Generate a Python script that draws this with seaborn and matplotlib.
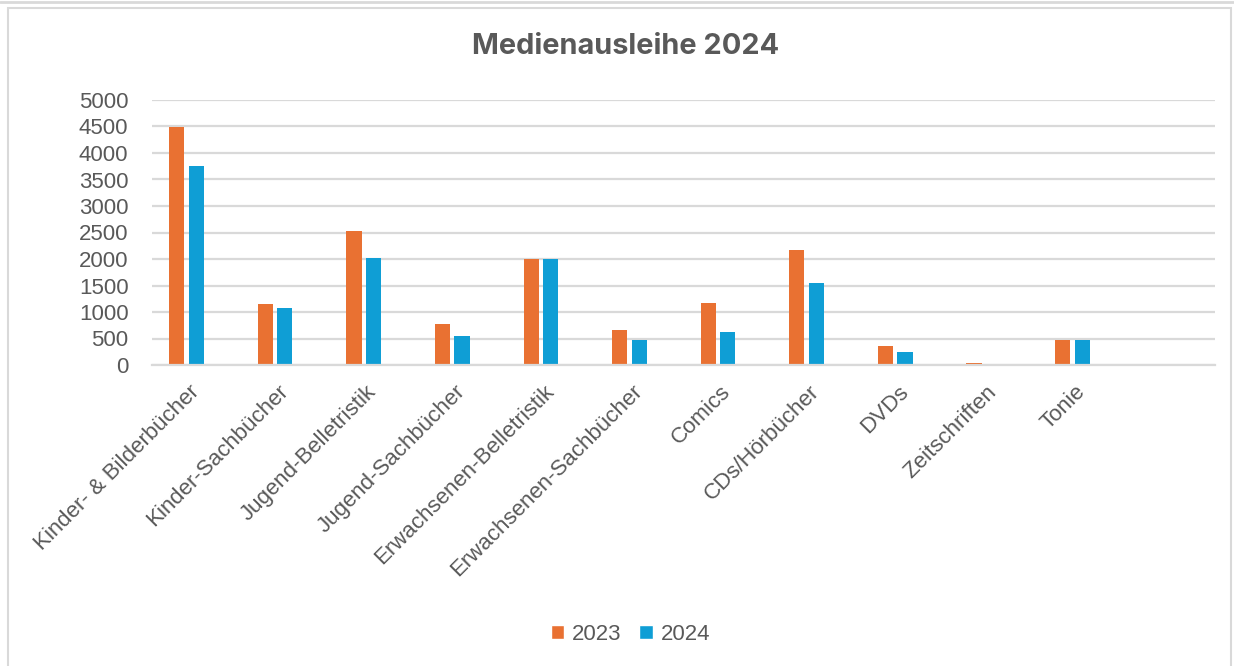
import matplotlib
matplotlib.use("Agg")
import matplotlib.pyplot as plt
from matplotlib.patches import Patch, Rectangle
from matplotlib.lines import Line2D
import seaborn as sns
import pandas as pd

# Ausleihzahlen je Medienart
kategorien = ["Kinder- & Bilderbücher", "Kinder-Sachbücher", "Jugend-Belletristik",
              "Jugend-Sachbücher", "Erwachsenen-Belletristik", "Erwachsenen-Sachbücher",
              "Comics", "CDs/Hörbücher", "DVDs", "Zeitschriften", "Tonie"]
ausleihe_2023 = [4490, 1150, 2520, 765, 2005, 655, 1165, 2170, 355, 30, 465]
ausleihe_2024 = [3750, 1080, 2025, 550, 2000, 475, 625, 1540, 245, 20, 480]
jahre = ["2023", "2024"]
farben = ["#E97132", "#0F9ED5"]

grau_text = "#595959"
grau_linie = "#D9D9D9"

df = pd.DataFrame({
    "kategorie": kategorien * 2,
    "jahr": [jahre[0]] * len(kategorien) + [jahre[1]] * len(kategorien),
    "wert": ausleihe_2023 + ausleihe_2024,
})

sns.set_style("white")
plt.rcParams["font.family"] = ["Liberation Sans", "DejaVu Sans"]

fig = plt.figure(figsize=(12.34, 6.66), dpi=100)
ax = fig.add_axes([152 / 1234, 1 - 365 / 666, (1215 - 152) / 1234, 265 / 666])

# Excel-Diagramm hat eine leere dritte Reihe und eine leere letzte Kategorie
ax = sns.barplot(data=df, x="kategorie", y="wert", hue="jahr",
                 order=kategorien + [" "], hue_order=jahre + ["leer"],
                 palette=farben + ["white"], saturation=1, width=0.66, gap=0.22,
                 linewidth=0, legend=False, ax=ax)

ax.set_ylim(0, 5000)
ax.set_xlim(-0.5, len(kategorien) + 0.5)
ax.set_yticks(range(0, 5001, 500))
ax.yaxis.grid(True, color=grau_linie, linewidth=1.6)
ax.set_axisbelow(True)
for s in ["top", "right", "left"]:
    ax.spines[s].set_visible(False)
ax.spines["bottom"].set_color(grau_linie)
ax.spines["bottom"].set_linewidth(1.6)
ax.tick_params(axis="both", length=0, colors=grau_text, labelsize=16)
ax.tick_params(axis="y", pad=17)
ax.tick_params(axis="x", pad=17)
ax.set_xlabel("")
ax.set_ylabel("")
plt.setp(ax.get_xticklabels(), rotation=45, ha="right", va="center", rotation_mode="anchor")

fig.text(0.507, 1 - 47 / 666, "Medienausleihe 2024", ha="center", va="center",
         fontsize=20.8, fontweight="bold", color=grau_text, family=["Inter", "DejaVu Sans"])

handles = [Patch(facecolor=f, label=j) for f, j in zip(farben, jahre)]
fig.legend(handles=handles, loc="center", bbox_to_anchor=(0.511, 1 - 634 / 666), ncol=2,
           frameon=False, fontsize=16, labelcolor=grau_text, handlelength=0.6,
           handleheight=0.6, handletextpad=0.35, columnspacing=0.8)

# Rahmen des Diagrammbereichs
fig.patches.append(Rectangle((7.5 / 1234, -0.01), (1231 - 7.5) / 1234, 1 - 7.5 / 666 + 0.01,
                             transform=fig.transFigure, fill=False,
                             edgecolor=grau_linie, linewidth=1.5))
fig.lines.append(Line2D([0, 1], [1 - 2 / 666, 1 - 2 / 666], transform=fig.transFigure,
                        color=grau_linie, linewidth=2))

fig.savefig("out.png", dpi=100)
